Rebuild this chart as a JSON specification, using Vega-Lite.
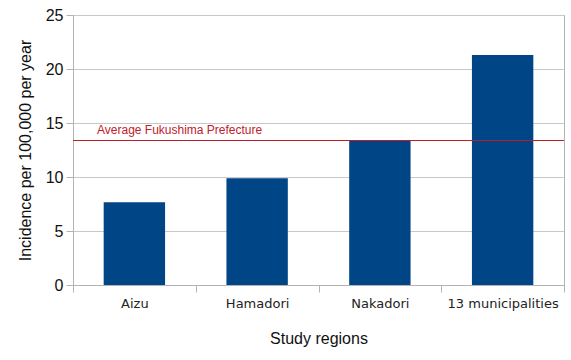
{
  "$schema": "https://vega.github.io/schema/vega-lite/v6.json",
  "width": 491,
  "height": 270,
  "autosize": "none",
  "padding": {"left": 73, "top": 15, "right": 7, "bottom": 75},
  "background": "white",
  "config": {
    "view": {"stroke": "#b3b3b3", "strokeWidth": 1}
  },
  "layer": [
    {
      "data": {"values": [
        {"region": "Aizu", "incidence": 7.66},
        {"region": "Hamadori", "incidence": 9.88},
        {"region": "Nakadori", "incidence": 13.36},
        {"region": "13 municipalities", "incidence": 21.3}
      ]},
      "mark": {"type": "bar", "color": "#004586", "width": {"band": 0.5}},
      "encoding": {
        "x": {
          "field": "region", "type": "nominal",
          "sort": ["Aizu", "Hamadori", "Nakadori", "13 municipalities"],
          "scale": {"paddingInner": 0, "paddingOuter": 0},
          "axis": {
            "title": "Study regions", "labelAngle": 0, "tickBand": "extent",
            "domainColor": "#b3b3b3", "tickColor": "#b3b3b3", "tickSize": 7,
            "labelFont": "DejaVu Sans", "labelFontSize": 13, "labelColor": "#222",
            "labelPadding": 5,
            "titleFont": "Liberation Sans", "titleFontSize": 16, "titleFontWeight": "normal",
            "titleColor": "#111", "titlePadding": 20
          }
        },
        "y": {
          "field": "incidence", "type": "quantitative",
          "scale": {"domain": [0, 25], "nice": false, "zero": true},
          "axis": {
            "title": "Incidence per 100,000 per year", "values": [0, 5, 10, 15, 20, 25],
            "domainColor": "#b3b3b3", "tickColor": "#b3b3b3", "tickSize": 7,
            "gridColor": "#c8c8c8", "labelFont": "Liberation Sans", "labelFontSize": 16,
            "labelColor": "#111", "labelPadding": 3,
            "titleFont": "Liberation Sans", "titleFontSize": 16, "titleFontWeight": "normal",
            "titleColor": "#111", "titlePadding": 12
          }
        }
      }
    },
    {
      "data": {"values": [{"avg": 13.38, "label": "Average Fukushima Prefecture", "region": "Aizu"}]},
      "mark": {"type": "rule", "stroke": "#b81e28", "strokeWidth": 1},
      "encoding": {"y": {"field": "avg", "type": "quantitative", "scale": {"domain": [0, 25], "nice": false}}}
    },
    {
      "data": {"values": [{"avg": 13.38, "label": "Average Fukushima Prefecture", "region": "Aizu"}]},
      "mark": {"type": "text", "color": "#c0202a", "font": "Liberation Sans", "fontSize": 12, "align": "left", "baseline": "bottom", "dx": 24, "dy": -3},
      "encoding": {
        "x": {"field": "region", "type": "nominal", "bandPosition": 0, "sort": ["Aizu", "Hamadori", "Nakadori", "13 municipalities"]},
        "y": {"field": "avg", "type": "quantitative"},
        "text": {"field": "label"}
      }
    }
  ]
}
